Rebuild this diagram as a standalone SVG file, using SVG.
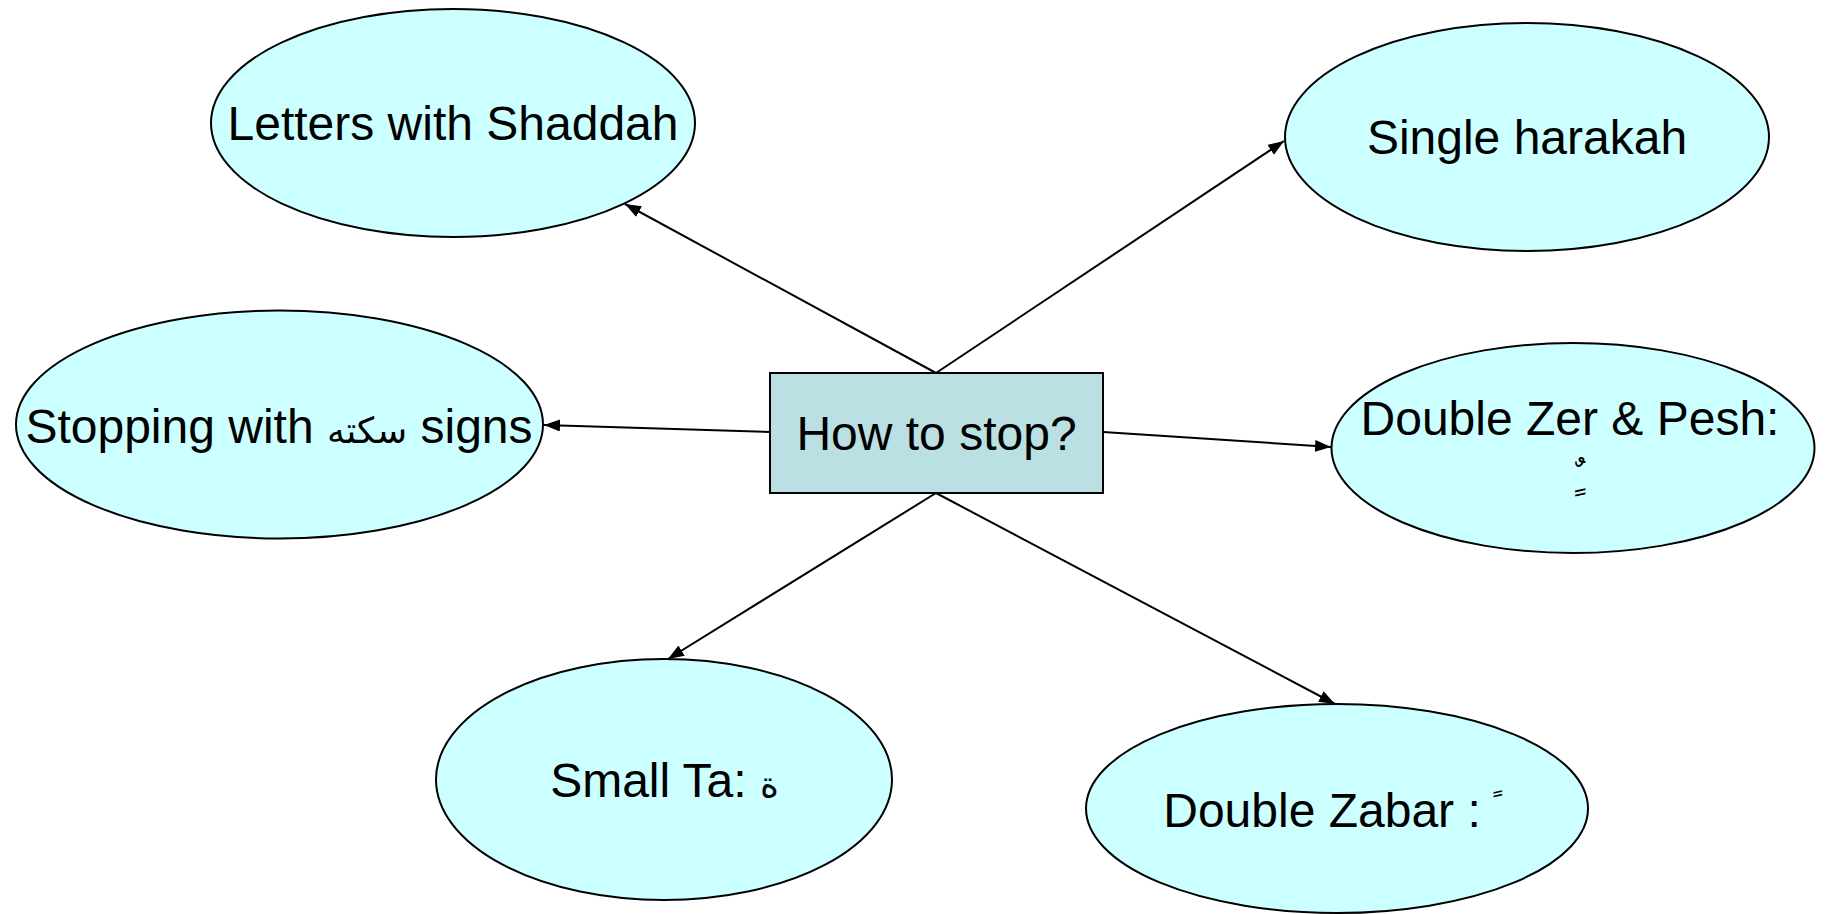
<svg xmlns="http://www.w3.org/2000/svg" width="1826" height="914" viewBox="0 0 1826 914">
<style>
.node ellipse{fill:#ccffff;stroke:#000;stroke-width:2}
.box rect{fill:#bbe0e3;stroke:#000;stroke-width:2}
text{font-family:"Liberation Sans","DejaVu Sans",Arial,sans-serif;font-size:48px;fill:#000;text-anchor:middle}
.ar{font-family:"DejaVu Sans",sans-serif;font-size:36px}
.mark{font-family:"DejaVu Sans",sans-serif;font-size:30px;text-anchor:middle}
#connectors line{stroke:#000;stroke-width:2;marker-end:url(#arrow)}
</style>
<defs>
<marker id="arrow" markerUnits="userSpaceOnUse" markerWidth="18" markerHeight="14" refX="16" refY="6" orient="auto">
<path d="M0,0 L16,6 L0,12 z" fill="#000"/>
</marker>
</defs>
<rect width="1826" height="914" fill="#fff"/>
<g id="connectors">
<line x1="936" y1="373" x2="625" y2="204"/>
<line x1="936" y1="373" x2="1284" y2="141"/>
<line x1="770" y1="432" x2="544" y2="425"/>
<line x1="1103" y1="432" x2="1331" y2="447"/>
<line x1="936" y1="493" x2="668" y2="659"/>
<line x1="936" y1="493" x2="1335" y2="704"/>
</g>
<g id="center" class="box">
<rect x="770" y="373" width="333" height="120"/>
<text x="936.5" y="450">How to stop?</text>
</g>
<g id="shaddah" class="node">
<ellipse cx="453" cy="123" rx="242" ry="114"/>
<text x="453" y="140">Letters with Shaddah</text>
</g>
<g id="single" class="node">
<ellipse cx="1527" cy="137" rx="242" ry="114"/>
<text x="1527" y="154">Single harakah</text>
</g>
<g id="saktah" class="node">
<ellipse cx="279.5" cy="424.5" rx="263.5" ry="114"/>
<text x="279" y="443">Stopping with <tspan class="ar">سكته</tspan> signs</text>
</g>
<g id="zerpesh" class="node">
<ellipse cx="1573" cy="448" rx="241.5" ry="105"/>
<text x="1570" y="435">Double Zer &amp; Pesh:</text>
<text class="mark" x="1577" y="488" style="font-size:36px">&#160;ٌٍ</text>
</g>
<g id="smallta" class="node">
<ellipse cx="664" cy="779.5" rx="228" ry="120.5"/>
<text x="664.5" y="797">Small Ta: <tspan class="ar">ة</tspan></text>
</g>
<g id="zabar" class="node">
<ellipse cx="1337" cy="808.5" rx="251" ry="104.5"/>
<text x="1322" y="827">Double Zabar :</text>
<text class="mark" x="1495" y="815">&#160;ً</text>
</g>
</svg>
